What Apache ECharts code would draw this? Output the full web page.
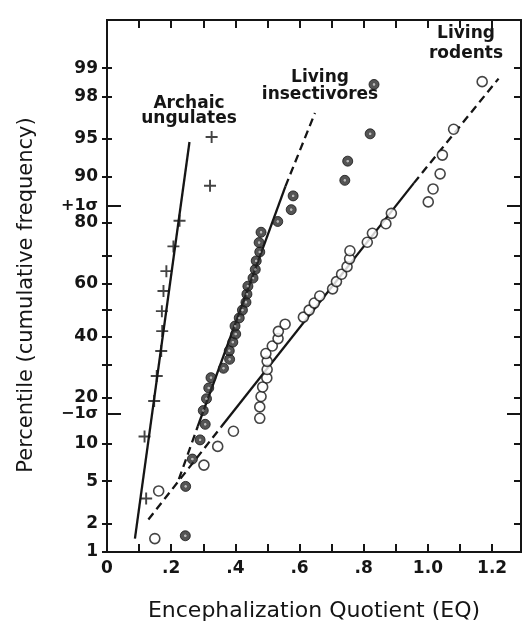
<!DOCTYPE html>
<html>
<head>
<meta charset="utf-8">
<title>EQ cumulative frequency</title>
<script src="https://cdn.jsdelivr.net/npm/echarts@6.0.0/dist/echarts.min.js"></script>
<style>
  html, body { margin: 0; padding: 0; background: #fff; }
  #main { width: 524px; height: 630px; }
</style>
</head>
<body>
<div id="main"></div>
<script>
// archaic ungulates (crosses)
const archaicEQ = [0.122, 0.117, 0.147, 0.155, 0.169, 0.172, 0.171, 0.176, 0.185, 0.207, 0.226, 0.321, 0.326];
const archaicPct = [3.5, 11.2, 19.1, 26.3, 34.7, 42.0, 49.6, 57.3, 64.6, 73.0, 80.5, 88.4, 95.2];

// living insectivores (filled circles)
const insectEQ = [0.244, 0.245, 0.266, 0.290, 0.306, 0.300, 0.310, 0.317, 0.324, 0.363, 0.382, 0.381, 0.392,
  0.401, 0.399, 0.412, 0.422, 0.433, 0.436, 0.439, 0.455, 0.462, 0.465, 0.476, 0.474, 0.480, 0.532, 0.574,
  0.580, 0.741, 0.750, 0.820, 0.832];
const insectPct = [1.5, 4.5, 7.6, 10.6, 13.6, 16.7, 19.7, 22.7, 25.8, 28.8, 31.8, 34.8, 37.9, 40.9, 43.9, 47.0,
  50.0, 53.0, 56.1, 59.1, 62.1, 65.2, 68.2, 71.2, 74.2, 77.3, 80.3, 83.3, 86.4, 89.4, 92.4, 95.5, 98.5];

// living rodents (open circles)
const rodentEQ = [0.149, 0.161, 0.302, 0.345, 0.394, 0.476, 0.476, 0.480, 0.485, 0.498, 0.499, 0.499, 0.495,
  0.515, 0.533, 0.534, 0.555, 0.612, 0.630, 0.646, 0.663, 0.703, 0.715, 0.731, 0.748, 0.756, 0.757, 0.811,
  0.827, 0.869, 0.886, 1.001, 1.016, 1.038, 1.045, 1.080, 1.169];
const rodentPct = [1.4, 4.1, 6.8, 9.5, 12.2, 14.9, 17.6, 20.3, 23.0, 25.7, 28.4, 31.1, 33.8, 36.5, 39.2, 41.9,
  44.6, 47.3, 50.0, 52.7, 55.4, 58.1, 60.8, 63.5, 66.2, 68.9, 71.6, 74.3, 77.0, 79.7, 82.4, 85.1, 87.8, 90.5,
  93.2, 95.9, 98.6];

// fitted lines: dashed / solid / dashed pieces
const archaicFitEQ = [0.087, 0.257];
const archaicFitPct = [1.4, 94.7];
const insectFitEQ = [0.224, 0.283, 0.556, 0.648];
const insectFitPct = [5.2, 13.2, 88.3, 97.1];
const rodentFitEQ = [0.129, 0.356, 0.956, 1.22];
const rodentFitPct = [2.2, 13.1, 88.9, 98.7];

// axis ticks and labels
const pctTicks = [1, 2, 5, 10, 20, 30, 40, 50, 60, 70, 80, 90, 95, 98, 99];
const pctLabels = [1, 2, 5, 10, 20, 40, 60, 80, 90, 95, 98, 99];
const sigmaVals = [1, -1];
const sigmaLabels = ['+1σ', '−1σ'];
const eqTicks = [0.1, 0.2, 0.3, 0.4, 0.5, 0.6, 0.7, 0.8, 0.9, 1.0, 1.1, 1.2];
const eqLabelVals = [0, 0.2, 0.4, 0.6, 0.8, 1.0, 1.2];
const eqLabelText = ['0', '.2', '.4', '.6', '.8', '1.0', '1.2'];

// inverse normal cdf (probability paper scale)
function probit(p) {
	const a = [-3.969683028665376e+01, 2.209460984245205e+02, -2.759285104469687e+02, 1.383577518672690e+02, -3.066479806614716e+01, 2.506628277459239e+00];
	const b = [-5.447609879822406e+01, 1.615858368580409e+02, -1.556989798598866e+02, 6.680131188771972e+01, -1.328068155288572e+01];
	const c = [-7.784894002430293e-03, -3.223964580411365e-01, -2.400758277161838e+00, -2.549732539343734e+00, 4.374664141464968e+00, 2.938163982698783e+00];
	const d = [7.784695709041462e-03, 3.224671290700398e-01, 2.445134137142996e+00, 3.754408661907416e+00];
	const pl = 0.02425;
	let q, r;
	if (p < pl) {
		q = Math.sqrt(-2 * Math.log(p));
		return (((((c[0] * q + c[1]) * q + c[2]) * q + c[3]) * q + c[4]) * q + c[5]) / ((((d[0] * q + d[1]) * q + d[2]) * q + d[3]) * q + 1);
	}
	if (p > 1 - pl) {
		q = Math.sqrt(-2 * Math.log(1 - p));
		return -(((((c[0] * q + c[1]) * q + c[2]) * q + c[3]) * q + c[4]) * q + c[5]) / ((((d[0] * q + d[1]) * q + d[2]) * q + d[3]) * q + 1);
	}
	q = p - 0.5;
	r = q * q;
	return (((((a[0] * r + a[1]) * r + a[2]) * r + a[3]) * r + a[4]) * r + a[5]) * q / (((((b[0] * r + b[1]) * r + b[2]) * r + b[3]) * r + b[4]) * r + 1);
}

const pz = (pct) => probit(pct / 100);
const pairs = (xs, ps) => xs.map((x, i) => [x, pz(ps[i])]);
const piece = (xs, ps, i) => [[xs[i], pz(ps[i])], [xs[i + 1], pz(ps[i + 1])]];

const INK = '#151515';
const FONT = 'DejaVu Sans';
const zMin = pz(1);
const zMax = 2.79;

const chart = echarts.init(document.getElementById('main'), null, { renderer: 'canvas' });

// every y axis shares the same probit range
function yAxis(pos, tickVals, len, inside, extra) {
	return Object.assign({
		type: 'value',
		position: pos,
		min: zMin,
		max: zMax,
		splitLine: { show: false },
		axisLine: { show: true, onZero: false, lineStyle: { color: INK, width: 2 } },
		axisTick: { show: true, inside: inside, length: len, customValues: tickVals, lineStyle: { color: INK, width: 2 } },
		axisLabel: { show: false }
	}, extra || {});
}

const pctTickZ = pctTicks.map(pz);
const pctLabelZ = pctLabels.map(pz);

const solid = { color: INK, width: 2.3, type: 'solid' };
const dashed = { color: INK, width: 2.3, type: [8, 5] };
const lineSeries = (data, style) => ({
	type: 'line', data: data, symbol: 'none', silent: true, z: 2,
	lineStyle: style
});

chart.setOption({
	animation: false,
	backgroundColor: '#fff',
	grid: { left: 107, top: 20, width: 414, height: 532 },
	xAxis: [
		{
			type: 'value', position: 'bottom', min: 0, max: 1.29,
			splitLine: { show: false },
			axisLine: { onZero: false, lineStyle: { color: INK, width: 2 } },
			axisTick: { inside: true, length: 8, customValues: eqTicks, lineStyle: { color: INK, width: 2 } },
			axisLabel: {
				customValues: eqLabelVals, margin: 8, color: INK,
				fontFamily: FONT, fontWeight: 'bold', fontSize: 17,
				formatter: (v) => eqLabelText[eqLabelVals.findIndex(t => Math.abs(t - v) < 1e-6)] || ''
			},
			name: 'Encephalization Quotient (EQ)',
			nameLocation: 'middle',
			nameGap: 48,
			nameTextStyle: { color: INK, fontFamily: FONT, fontSize: 22 }
		},
		{
			type: 'value', position: 'top', min: 0, max: 1.29,
			splitLine: { show: false },
			axisLine: { onZero: false, lineStyle: { color: INK, width: 2 } },
			axisTick: { inside: true, length: 8, customValues: eqTicks, lineStyle: { color: INK, width: 2 } },
			axisLabel: { show: false }
		}
	],
	yAxis: [
		yAxis('left', pctTickZ, 5, false, {
			axisLabel: {
				show: true, customValues: pctLabelZ, margin: 9, color: INK,
				fontFamily: FONT, fontWeight: 'bold', fontSize: 17,
				formatter: (v) => {
					const i = pctLabelZ.findIndex(t => Math.abs(t - v) < 1e-6);
					return i >= 0 ? String(pctLabels[i]) : '';
				}
			},
			name: 'Percentile (cumulative frequency)',
			nameLocation: 'middle',
			nameRotate: 90,
			nameGap: 70,
			nameTextStyle: { color: INK, fontFamily: FONT, fontSize: 21, padding: [0, 18, 0, 0] }
		}),
		yAxis('left', pctTickZ, 5, true),
		yAxis('left', sigmaVals, 14, true, {
			axisLabel: {
				show: true, customValues: sigmaVals, margin: 9, color: INK,
				fontFamily: FONT, fontWeight: 'bold', fontSize: 16,
				formatter: (v) => sigmaLabels[sigmaVals.findIndex(t => Math.abs(t - v) < 1e-6)] || ''
			}
		}),
		yAxis('right', pctTickZ, 7, true),
		yAxis('right', sigmaVals, 14, true)
	],
	series: [
		lineSeries(piece(archaicFitEQ, archaicFitPct, 0), solid),
		lineSeries(piece(insectFitEQ, insectFitPct, 0), dashed),
		lineSeries(piece(insectFitEQ, insectFitPct, 1), solid),
		lineSeries(piece(insectFitEQ, insectFitPct, 2), dashed),
		lineSeries(piece(rodentFitEQ, rodentFitPct, 0), dashed),
		lineSeries(piece(rodentFitEQ, rodentFitPct, 1), solid),
		lineSeries(piece(rodentFitEQ, rodentFitPct, 2), dashed),
		{
			name: 'Archaic ungulates', type: 'scatter', z: 4,
			data: pairs(archaicEQ, archaicPct),
			symbol: 'path://M4.2,0H5.8V4.2H10V5.8H5.8V10H4.2V5.8H0V4.2H4.2Z',
			symbolSize: 12,
			itemStyle: { color: INK }
		},
		{
			name: 'Living insectivores', type: 'scatter', z: 4,
			data: pairs(insectEQ, insectPct),
			symbol: 'circle', symbolSize: 10,
			itemStyle: {
				borderColor: INK, borderWidth: 1,
				color: {
					type: 'radial', x: 0.5, y: 0.5, r: 0.5,
					colorStops: [
						{ offset: 0, color: '#a8a8a8' },
						{ offset: 0.16, color: '#a8a8a8' },
						{ offset: 0.3, color: '#2a2a2a' },
						{ offset: 1, color: '#2a2a2a' }
					]
				}
			}
		},
		{
			name: 'Living rodents', type: 'scatter', z: 4,
			data: pairs(rodentEQ, rodentPct),
			symbol: 'circle', symbolSize: 10,
			itemStyle: { color: '#fff', borderColor: INK, borderWidth: 1.6 }
		}
	],
	graphic: [
		{
			type: 'text', x: 189, y: 96,
			style: { text: 'Archaic\nungulates', align: 'center', verticalAlign: 'top', fill: INK,
				fontFamily: FONT, fontWeight: 'bold', fontSize: 17, lineHeight: 15 }
		},
		{
			type: 'text', x: 320, y: 69,
			style: { text: 'Living\ninsectivores', align: 'center', verticalAlign: 'top', fill: INK,
				fontFamily: FONT, fontWeight: 'bold', fontSize: 17, lineHeight: 17 }
		},
		{
			type: 'text', x: 466, y: 24,
			style: { text: 'Living\nrodents', align: 'center', verticalAlign: 'top', fill: INK,
				fontFamily: FONT, fontWeight: 'bold', fontSize: 17, lineHeight: 20 }
		}
	]
});
</script>
</body>
</html>
